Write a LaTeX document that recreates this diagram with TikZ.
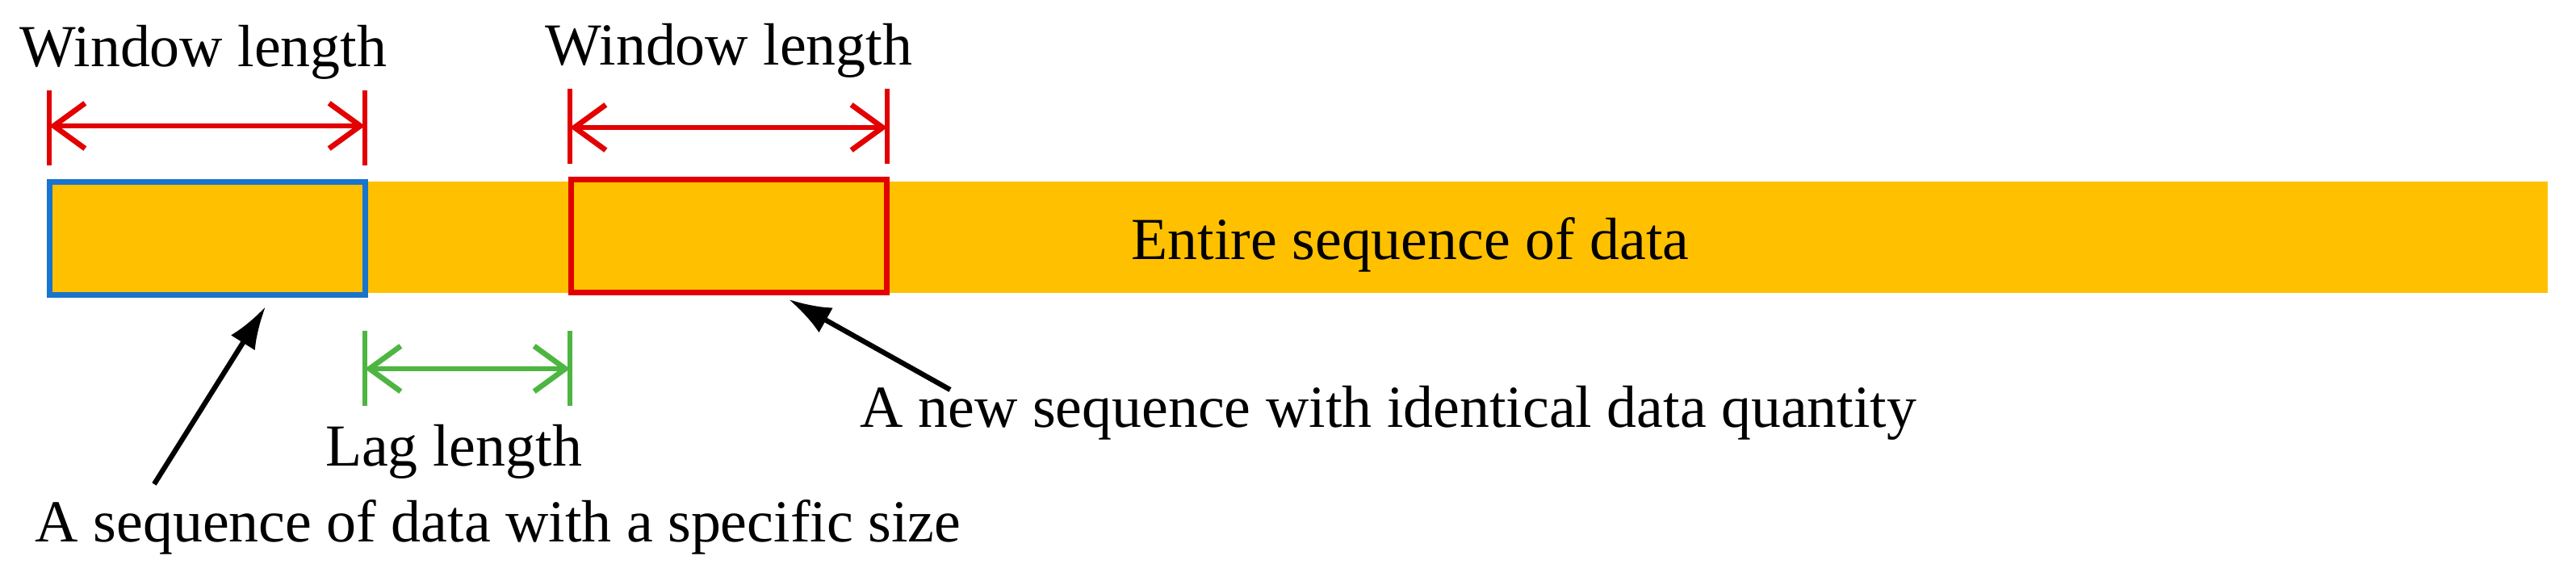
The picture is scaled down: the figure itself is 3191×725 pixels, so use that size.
\documentclass[tikz,border=0pt]{standalone}
\usepackage{fontspec}
\setmainfont{Liberation Serif}
\usetikzlibrary{arrows.meta,positioning}
\definecolor{barorange}{RGB}{255,192,0}
\definecolor{winblue}{RGB}{24,116,205}
\definecolor{winred}{RGB}{226,0,0}
\definecolor{laggreen}{RGB}{77,182,66}

\begin{document}
\begin{tikzpicture}[x=0.01cm,y=-0.01cm,
    lbl/.style={font=\fontsize{21}{25}\selectfont, inner sep=0pt, anchor=base},
    winbox/.style={draw, line width=2pt, fill=barorange, minimum width=3.9cm, minimum height=1.4cm, inner sep=0pt},
    tick/.style={line width=1.7pt},
    dim/.style={line width=1.9pt, {Straight Barb[length=11pt,width=16pt]}-{Straight Barb[length=11pt,width=16pt]}},
    pointer/.style={line width=1.8pt, -{Latex[length=15pt,width=10pt]}}]
    \useasboundingbox (0,0) rectangle (3191,725);
    % Draw the entire sequence and the two windows
    \node[fill=barorange, minimum width=30.94cm, minimum height=1.38cm, inner sep=0pt] (seq) at (1608,294) {};
    \node[lbl] (seqtext) at (1747,322) {Entire sequence of data};
    \node[winbox, draw=winblue] (win1) at (257,295.5) {};
    \node[winbox, draw=winred] (win2) at (903,292.5) {};

    % Window lengths
    \draw[tick, winred] (61,112) -- (61,205) (452,112) -- (452,205);
    \draw[tick, winred] (706,110) -- (706,203) (1099,110) -- (1099,203);
    \coordinate (w1a) at (61,156);  \coordinate (w1b) at (452,156);
    \coordinate (w2a) at (706,158); \coordinate (w2b) at (1099,158);
    \draw[dim, winred] (w1a) -- (w1b);
    \draw[dim, winred] (w2a) -- (w2b);
    \node[lbl] (win1text) at (252,83) {Window length};
    \node[lbl] (win2text) at (903,81) {Window length};

    % Lag length
    \draw[tick, laggreen] (452,410) -- (452,503) (706,410) -- (706,503);
    \coordinate (lag1) at (452,457); \coordinate (lag2) at (706,457);
    \draw[dim, laggreen] (lag1) -- (lag2);
    \node[lbl] (lagtext) at (562,578) {Lag length};

    % Labels with pointers
    \node[lbl] (oldtext) at (617,672) {A sequence of data with a specific size};
    \node[lbl] (newtext) at (1720,530) {A new sequence with identical data quantity};
    \coordinate (old1) at (191,600); \coordinate (old2) at (329,380);
    \coordinate (new1) at (1177,483); \coordinate (new2) at (977,371);
    \draw[pointer] (old1) -- (old2);
    \draw[pointer] (new1) -- (new2);
\end{tikzpicture}
\end{document}
